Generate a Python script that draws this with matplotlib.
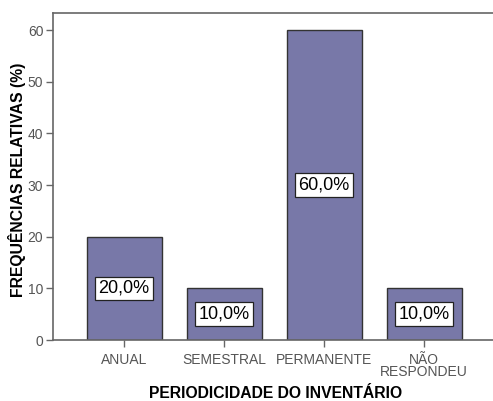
import matplotlib
matplotlib.use("Agg")
import matplotlib.pyplot as plt

categories = ["ANUAL", "SEMESTRAL", "PERMANENTE", "NÃO\nRESPONDEU"]
values = [20.0, 10.0, 60.0, 10.0]
value_labels = ["20,0%", "10,0%", "60,0%", "10,0%"]
yticks = [0, 10, 20, 30, 40, 50, 60]

plt.rcParams["font.family"] = ["Liberation Sans", "DejaVu Sans"]

fig = plt.figure(figsize=(4.93, 4.01), dpi=100)
ax = fig.add_axes([53 / 493, 1 - 340 / 401, 1 - 53 / 493, (340 - 13) / 401])

x = list(range(len(categories)))
ax.bar(x, values, width=0.75, color="#7878a8", edgecolor="#333333", linewidth=1.0, zorder=2)

for xi, v, lab in zip(x, values, value_labels):
    ax.text(xi, v / 2, lab, ha="center", va="center", fontsize=13, color="black", zorder=3,
            bbox=dict(boxstyle="square,pad=0.18", facecolor="white", edgecolor="#222222", linewidth=0.9))

ax.set_xlim(-0.71, 3.69)
ax.set_ylim(0, 63.3)
ax.set_yticks(yticks)
ax.set_yticklabels([str(t) for t in yticks])
ax.set_xticks(x)
ax.set_xticklabels(categories, linespacing=0.85)

for side in ("left", "bottom", "top"):
    ax.spines[side].set_color("#666666")
    ax.spines[side].set_linewidth(1.2)
ax.spines["right"].set_visible(False)

ax.tick_params(axis="both", colors="#666666", length=5, width=1.0, labelsize=10, labelcolor="#555555")
ax.tick_params(axis="x", pad=4)
ax.tick_params(axis="y", pad=2)

ax.set_xlabel("PERIODICIDADE DO INVENTÁRIO", fontsize=11.3, fontweight="bold")
ax.xaxis.set_label_coords(0.505, -(394 - 340) / 327)
ax.xaxis.label.set_va("center")
ax.set_ylabel("FREQUÊNCIAS RELATIVAS (%)", fontsize=11.3, fontweight="bold")
ax.yaxis.set_label_coords(-(53 - 17.5) / 440, 0.49)
ax.yaxis.label.set_va("center")

fig.savefig("out.png", dpi=100)
